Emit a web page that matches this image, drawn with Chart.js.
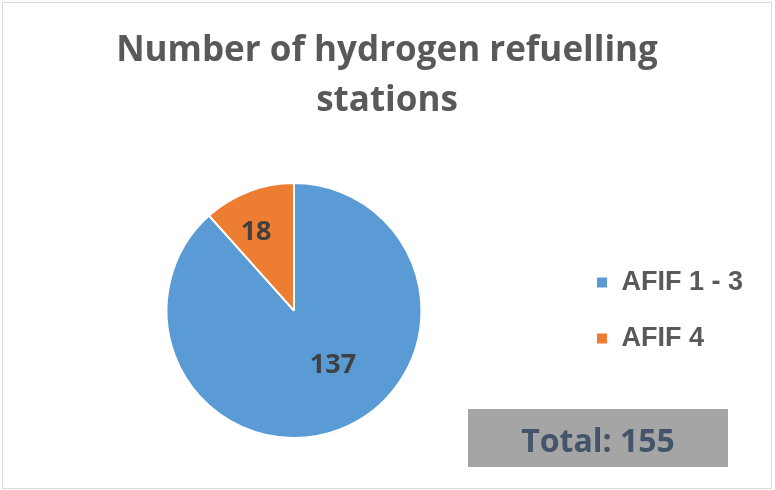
<!DOCTYPE html>
<html>
<head>
<meta charset="utf-8">
<script src="https://cdn.jsdelivr.net/npm/chart.js@4"></script>
<style>
  html, body { margin: 0; padding: 0; background: #ffffff; }
  #wrap { width: 775px; height: 490px; position: relative; }
</style>
</head>
<body>
<div id="wrap"><canvas id="c" width="775" height="490"></canvas></div>
<script>
const categories = ['AFIF 1 - 3', 'AFIF 4'];
const stationCounts = [137, 18];
const sliceColors = ['#5B9BD5', '#ED7D31'];
const titleLines = ['Number of hydrogen refuelling', 'stations'];
const totalLabel = 'Total: ' + stationCounts.reduce((a, b) => a + b, 0);

// label placement inside each slice: [fraction along slice angle, fraction of radius]
const labelPlacement = [[0.455, 0.53], [0.38, 0.68]];

const FONT = '"Open Sans", Lato, sans-serif';

const decorPlugin = {
  id: 'decor',
  beforeDraw(chart) {
    const ctx = chart.ctx;
    ctx.save();
    ctx.fillStyle = '#ffffff';
    ctx.fillRect(0, 0, chart.width, chart.height);
    ctx.restore();
  },
  afterDatasetsDraw(chart) {
    const ctx = chart.ctx;
    const meta = chart.getDatasetMeta(0);
    ctx.save();
    ctx.font = 'bold 27px ' + FONT;
    ctx.fillStyle = '#404040';
    ctx.textAlign = 'center';
    ctx.textBaseline = 'middle';
    meta.data.forEach((arc, i) => {
      const p = arc.getProps(['x', 'y', 'startAngle', 'endAngle', 'outerRadius'], true);
      const pl = labelPlacement[i];
      const a = p.startAngle + (p.endAngle - p.startAngle) * pl[0];
      const r = p.outerRadius * pl[1];
      ctx.fillText(String(chart.data.datasets[0].data[i]), p.x + Math.cos(a) * r, p.y + Math.sin(a) * r);
    });
    ctx.restore();
  },
  afterDraw(chart) {
    const ctx = chart.ctx;
    ctx.save();
    // outer frame
    ctx.strokeStyle = '#d9d9d9';
    ctx.lineWidth = 1;
    ctx.strokeRect(2.5, 2.5, 769, 486);
    // total box
    ctx.fillStyle = '#a5a5a5';
    ctx.fillRect(468, 409, 260, 58);
    ctx.font = 'bold 32px ' + FONT;
    ctx.fillStyle = '#44546A';
    ctx.textAlign = 'center';
    ctx.textBaseline = 'alphabetic';
    ctx.fillText(totalLabel, 598, 452);
    ctx.restore();
  }
};

new Chart(document.getElementById('c'), {
  type: 'pie',
  data: {
    labels: categories,
    datasets: [{
      data: stationCounts,
      backgroundColor: sliceColors,
      borderColor: '#ffffff',
      borderWidth: 2
    }]
  },
  options: {
    responsive: false,
    animation: false,
    events: [],
    layout: { padding: { left: 21, right: 22, top: 0, bottom: 51 } },
    plugins: {
      title: {
        display: true,
        text: titleLines,
        color: '#595959',
        font: { family: FONT, size: 35, weight: 'bold', lineHeight: 1.43 },
        padding: { top: 26, bottom: 56 }
      },
      legend: {
        display: true,
        position: 'right',
        fullSize: false,
        labels: {
          boxWidth: 12,
          boxHeight: 12,
          padding: 29,
          color: '#595959',
          font: { family: '"Liberation Sans", Arial, sans-serif', size: 27, weight: 'bold' }
        }
      },
      tooltip: { enabled: false }
    }
  },
  plugins: [decorPlugin]
});
</script>
</body>
</html>
